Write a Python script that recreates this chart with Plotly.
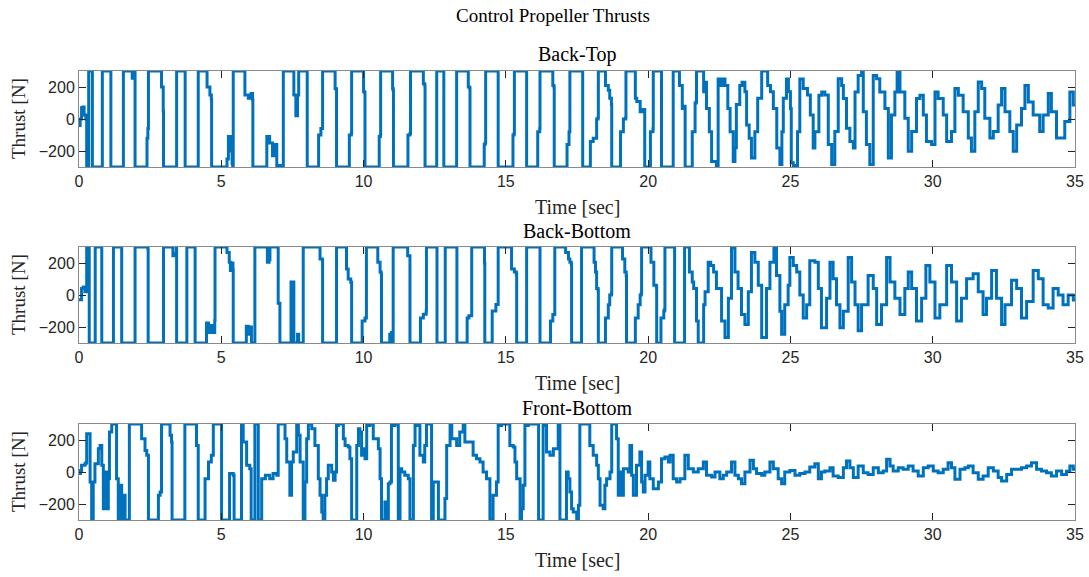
import plotly.graph_objects as go

# ---------------- data: (time [s], thrust [N]) pairs per panel ----------------
back_top = [
(0.00,-40),(0.04,0),(0.09,70),(0.13,75),(0.18,25),(0.24,0),(0.27,-300),(0.33,-300),(0.34,300),(0.46,300),(0.47,-300),(0.80,-300),(0.82,300),(1.11,300),(1.12,-300),(1.55,-300),(1.56,300),(1.85,300),(1.87,255),(1.90,300),(1.96,300),(1.97,-300),(2.38,-300),(2.39,-120),(2.42,-60),(2.44,300),(2.84,300),(2.90,200),(2.96,50),(2.97,-300),(3.42,-300),(3.43,300),(3.72,300),(3.73,-300),(4.18,-300),(4.19,300),(4.45,300),(4.50,200),(4.60,150),(4.65,120),(4.66,-300),(5.10,-300),(5.20,-250),(5.25,-110),(5.32,-200),(5.38,-280),(5.40,-300),(5.42,300),(5.80,300),(5.83,150),(5.95,130),(6.05,160),(6.10,120),(6.11,-300),(6.55,-300),(6.60,-110),(6.70,-150),(6.80,-230),(6.90,-160),(6.95,-290),(7.17,-300),(7.18,300),(7.50,300),(7.55,150),(7.62,20),(7.68,150),(7.72,300),(8.00,300),(8.02,-300),(8.40,-300),(8.42,-100),(8.50,-60),(8.56,300),
(8.94,300),(9.00,190),(9.04,185),(9.05,-300),(9.46,-300),(9.50,-100),(9.57,-90),(9.58,300),(9.93,300),(10.00,170),(10.04,165),(10.05,-300),(10.52,-300),(10.55,-110),(10.59,-100),(10.60,300),(10.98,300),(11.02,190),(11.04,180),(11.05,-300),(11.51,-300),(11.56,-100),(11.63,-90),(11.65,300),(12.04,300),(12.10,220),(12.15,210),(12.16,-300),(12.56,-300),(12.57,300),(12.80,300),(12.82,-300),(13.26,-300),(13.27,300),(13.62,300),(13.68,200),(13.73,190),(13.74,-300),(14.20,-300),(14.24,-160),(14.27,-150),(14.29,300),(14.67,300),(14.73,-300),(15.20,-300),(15.25,-100),(15.29,-90),(15.30,300),(15.67,300),(15.73,-300),(16.05,-300),(16.12,-80),(16.19,-60),(16.20,300),(16.60,300),(16.65,210),(16.69,200),(16.70,-300),(17.08,-300),(17.15,-160),(17.22,-80),(17.25,300),
(17.66,300),(17.70,-300),(17.95,-300),(17.97,-140),(18.07,-120),(18.19,0),(18.24,10),(18.25,300),(18.42,300),(18.50,210),(18.60,180),(18.65,130),(18.71,90),(18.72,-300),(19.01,-300),(19.03,-80),(19.13,0),(19.21,10),(19.22,300),(19.42,300),(19.55,130),(19.60,110),(19.72,45),(19.80,60),(19.88,-300),(20.06,-300),(20.08,-80),(20.17,-60),(20.18,300),(20.41,300),(20.47,-300),(20.80,-300),(20.88,300),(21.06,300),(21.10,210),(21.20,65),(21.28,80),(21.30,-300),(21.53,-300),(21.55,-80),(21.65,100),(21.69,110),(21.70,300),(21.90,300),(21.95,170),(22.00,230),(22.05,65),(22.15,-80),(22.23,-265),(22.40,-300),(22.46,250),(22.55,210),(22.62,250),(22.70,210),(22.80,65),(22.88,-80),(22.99,-265),(23.05,-180),(23.10,90),(23.22,210),(23.30,230),(23.40,170),(23.46,-37),(23.55,-120),(23.63,-243),(23.75,-80),(23.85,130),(23.99,300),(24.10,300),(24.20,210),(24.30,170),(24.40,65),(24.52,-181),(24.63,-284),(24.70,-80),(24.75,130),(24.86,250),(24.93,170),(25.00,66),(25.03,-274),(25.10,-290),(25.25,-80),(25.33,250),(25.45,190),(25.60,150),(25.70,25),(25.80,-181),(25.86,-80),(26.00,148),
(26.10,169),(26.21,150),(26.33,-160),(26.45,-284),(26.56,-78),(26.68,251),(26.80,210),(26.86,128),(26.97,-58),(27.09,-140),(27.21,-181),(27.27,169),(27.38,272),(27.50,292),(27.56,45),(27.67,-160),(27.79,-284),(27.91,272),(28.03,251),(28.14,169),(28.32,66),(28.44,-243),(28.55,25),(28.67,169),(28.75,292),(28.85,169),(29.02,4),(29.14,-202),(29.26,-78),(29.43,128),(29.55,148),(29.67,25),(29.78,-140),(29.96,-160),(30.08,169),(30.19,128),(30.37,25),(30.49,-140),(30.66,-78),(30.78,190),(30.90,148),(31.07,45),(31.25,-119),(31.36,-202),(31.48,45),(31.60,231),(31.72,190),(31.83,4),(32.01,-119),(32.13,-78),(32.30,87),(32.42,190),(32.54,45),(32.71,-78),(32.83,-202),(32.95,-37),(33.12,66),(33.24,210),(33.36,107),(33.53,25),(33.76,-78),(33.88,25),(34.06,159),(34.17,45),(34.35,-119),(34.47,-119),(34.64,-16),(34.82,169),(34.94,87),(35.00,90)]

back_bottom = [
(0.00,-30),(0.04,-30),(0.09,40),(0.15,50),(0.21,20),(0.25,20),(0.27,300),(0.35,300),(0.36,-300),(0.56,-300),(0.57,300),(0.79,300),(0.80,-300),(1.20,-300),(1.21,300),(1.49,300),(1.50,-300),(1.96,-300),(1.97,300),(2.38,300),(2.42,290),(2.43,-300),(2.96,-300),(2.97,300),(3.25,300),(3.30,245),(3.38,260),(3.42,300),(3.43,-300),(3.78,-300),(3.79,300),(4.07,300),(4.08,-300),(4.45,-300),(4.48,-175),(4.55,-235),(4.62,-190),(4.72,-235),(4.77,-160),(4.78,300),(5.19,300),(5.20,265),(5.28,204),(5.32,153),(5.36,200),(5.41,160),(5.42,-300),(5.83,-300),(5.88,-195),(5.95,-245),(6.00,-200),(6.06,-300),(6.17,-300),(6.18,300),(6.59,300),(6.62,204),(6.68,220),(6.71,300),(6.94,300),(7.00,-51),(7.06,-300),(7.41,-300),(7.45,82),(7.50,82),(7.55,-300),(7.68,-245),(7.72,-300),(7.87,-300),(7.88,300),(8.41,300),(8.47,225),(8.55,220),(8.56,-300),
(9.04,-300),(9.05,300),(9.35,300),(9.40,163),(9.46,100),(9.55,80),(9.58,-300),(9.93,-300),(9.95,-163),(10.05,-143),(10.10,300),(10.40,300),(10.50,204),(10.58,143),(10.62,130),(10.63,-300),(10.90,-300),(10.92,-245),(10.98,-235),(11.00,-300),(11.04,300),(11.51,300),(11.55,245),(11.62,245),(11.63,-300),(11.98,-300),(12.00,-143),(12.10,-120),(12.20,-100),(12.21,300),(12.57,300),(12.58,-300),(12.86,-300),(12.87,300),(13.27,300),(13.28,-300),(13.62,-300),(13.64,-143),(13.70,-130),(13.79,-130),(13.80,300),(14.20,300),(14.25,200),(14.26,-300),(14.50,-300),(14.52,-100),(14.65,-60),(14.72,-60),(14.73,300),(15.14,300),(15.20,163),(15.30,143),(15.37,130),(15.38,-300),(15.72,-300),(15.73,300),(16.19,300),(16.20,-300),(16.55,-300),(16.57,-163),(16.65,-122),(16.71,-122),(16.72,300),(17.07,300),(17.10,265),(17.20,225),(17.25,204),(17.30,190),(17.31,-300),
(17.65,-300),(17.66,300),(18.01,300),(18.10,204),(18.15,143),(18.19,41),(18.24,30),(18.25,-300),(18.42,-300),(18.50,-143),(18.60,-61),(18.65,0),(18.71,10),(18.72,300),(19.01,300),(19.10,225),(19.18,143),(19.23,120),(19.24,-300),(19.48,-300),(19.55,-143),(19.65,-61),(19.72,0),(19.76,10),(19.77,300),(20.00,300),(20.10,204),(20.20,61),(20.29,50),(20.30,-300),(20.40,-300),(20.45,-143),(20.55,-100),(20.58,-90),(20.59,300),(20.88,300),(20.93,-300),(21.20,-300),(21.28,300),(21.35,300),(21.45,143),(21.55,82),(21.60,41),(21.70,-163),(21.76,-300),(21.88,-300),(21.95,-61),(22.00,20),(22.11,204),(22.20,184),(22.30,143),(22.40,41),(22.58,-163),(22.70,-265),(22.82,-20),(22.93,296),(23.05,143),(23.16,41),(23.28,-122),(23.40,-184),(23.52,20),(23.63,265),(23.75,204),(23.87,61),(23.99,-265),(24.16,41),(24.28,204),(24.42,296),(24.51,122),(24.63,-102),(24.69,-245),(24.80,-61),(24.92,61),(24.98,235),(25.10,184),(25.22,143),(25.33,0),(25.45,-143),(25.57,-61),(25.68,214),(25.86,204),(25.98,41),(26.09,-204),
(26.27,-20),(26.39,204),(26.50,102),(26.62,-61),(26.74,-204),(26.86,-102),(27.03,235),(27.15,82),(27.27,-61),(27.38,-224),(27.50,-61),(27.73,122),(27.91,41),(28.03,-184),(28.20,-61),(28.38,235),(28.50,82),(28.67,-20),(28.85,-122),(29.02,41),(29.14,143),(29.26,41),(29.43,-163),(29.61,-20),(29.76,184),(29.90,82),(30.08,-143),(30.25,-61),(30.49,184),(30.66,82),(30.84,-163),(31.01,-20),(31.19,102),(31.42,133),(31.60,20),(31.77,-122),(31.89,-20),(32.07,153),(32.24,-20),(32.42,-184),(32.54,-61),(32.77,92),(32.95,41),(33.12,-143),(33.30,-41),(33.53,153),(33.71,102),(33.88,-61),(34.06,-82),(34.23,41),(34.41,0),(34.58,-61),(34.76,0),(34.94,-31),(35.00,-20)]

front_bottom = [
(0.00,-10),(0.05,10),(0.09,42),(0.21,52),(0.25,60),(0.27,239),(0.33,239),(0.39,-62),(0.445,-300),(0.50,-62),(0.56,52),(0.68,146),(0.74,166),(0.80,42),(0.855,-229),(0.91,0),(0.97,-229),(1.03,-42),(1.07,250),(1.15,300),(1.27,300),(1.32,-42),(1.38,-300),(1.44,-83),(1.50,-300),(1.56,-146),(1.62,-300),(1.73,-300),(1.77,300),(2.03,300),(2.14,300),(2.20,208),(2.32,135),(2.38,105),(2.44,-300),(2.73,-300),(2.79,-146),(2.85,-125),(2.90,300),(3.14,300),(3.20,229),(3.25,187),(3.27,-300),(3.71,-300),(3.72,300),(4.07,300),(4.13,166),(4.19,-300),(4.43,-42),(4.55,62),(4.65,104),(4.72,300),(4.95,300),(5.01,-300),(5.27,-300),(5.29,-10),(5.42,-21),(5.45,-300),(5.70,-300),(5.71,300),(5.77,187),(5.89,42),(6.00,21),(6.05,-300),(6.12,-300),(6.18,300),(6.25,300),(6.30,-300),(6.40,-300),(6.42,-42),(6.55,-21),(6.70,-42),(6.82,-10),(6.95,-21),(7.00,300),(7.18,300),(7.24,208),(7.30,62),(7.41,-146),(7.47,62),(7.53,125),(7.65,300),(7.71,229),(7.77,62),(7.88,-300),(7.94,-62),(8.00,208),(8.06,300),(8.18,270),(8.29,166),(8.41,-42),
(8.47,-146),(8.53,-250),(8.58,-300),(8.64,-146),(8.70,-42),(8.76,42),(8.88,0),(8.94,-52),(9.00,0),(9.05,291),(9.11,300),(9.23,300),(9.29,208),(9.35,166),(9.46,156),(9.52,83),(9.58,-300),(9.70,-300),(9.76,166),(9.82,270),(9.87,250),(9.93,104),(9.99,146),(10.05,83),(10.11,291),(10.22,300),(10.34,208),(10.52,146),(10.58,-42),(10.63,-300),(10.75,-187),(10.81,-300),(10.87,-73),(10.93,-62),(10.98,291),(11.10,300),(11.16,300),(11.22,-300),(11.28,21),(11.34,0),(11.45,-21),(11.57,-42),(11.63,-300),(11.75,166),(11.81,291),(11.86,291),(11.98,104),(12.10,62),(12.15,166),(12.21,300),(12.33,300),(12.39,-300),(12.45,-62),(12.57,-62),(12.63,-300),(12.74,-300),(12.86,-166),(12.92,166),(13.04,291),(13.10,208),(13.27,166),(13.38,250),(13.50,291),(13.56,187),(13.85,104),(13.97,83),(14.09,62),(14.20,0),(14.32,-42),(14.44,-300),(14.55,-146),(14.67,-62),(14.73,291),(14.85,300),(15.03,300),(15.14,166),(15.26,156),(15.32,62),(15.38,-42),(15.50,-300),(15.55,-229),(15.61,-83),(15.67,291),(15.79,300),(16.10,300),(16.15,-300),(16.25,-300),(16.31,291),(16.37,300),(16.43,125),(16.55,104),(16.67,146),(16.84,291),(16.90,-300),(17.02,-300),(17.13,0),(17.19,-42),
(17.25,-125),(17.31,-229),(17.37,-250),(17.49,-300),(17.55,-208),(17.60,300),(17.90,300),(17.95,166),(18.07,104),(18.19,42),(18.25,-42),(18.31,-208),(18.42,-229),(18.48,-83),(18.54,-42),(18.66,0),(18.72,300),(18.83,300),(18.89,208),(18.95,-146),(19.01,0),(19.07,-146),(19.13,21),(19.30,0),(19.36,166),(19.42,-21),(19.48,-146),(19.59,42),(19.71,125),(19.77,-62),(19.83,-125),(19.89,-21),(20.00,62),(20.06,-42),(20.18,-104),(20.36,-62),(20.47,83),(20.59,94),(20.71,62),(20.77,104),(20.88,-42),(21.00,-62),(21.12,-42),(21.29,104),(21.41,21),(21.59,0),(21.76,21),(21.94,62),(22.05,-21),(22.23,-31),(22.35,0),(22.52,-42),(22.64,-21),(22.76,0),(22.93,62),(23.05,-21),(23.17,-42),(23.28,-73),(23.40,0),(23.58,73),(23.70,21),(23.81,-10),(23.99,-21),(24.10,0),(24.28,62),(24.40,21),(24.57,-42),(24.69,-73),(24.80,0),(24.98,10),(25.16,-21),(25.33,-10),(25.51,0),(25.68,31),(25.86,52),(25.98,-42),(26.09,0),
(26.21,6),(26.39,27),(26.50,-25),(26.68,-35),(26.86,27),(26.97,69),(27.09,27),(27.21,-35),(27.38,37),(27.56,-4),(27.73,-15),(27.91,27),(28.09,-4),(28.26,6),(28.38,79),(28.50,37),(28.61,6),(28.79,27),(28.96,17),(29.14,37),(29.31,6),(29.49,-25),(29.67,27),(29.84,37),(30.02,6),(30.19,-4),(30.37,17),(30.54,58),(30.66,27),(30.78,-46),(30.96,17),(31.13,27),(31.25,37),(31.42,-4),(31.60,-46),(31.77,-25),(31.95,27),(32.13,6),(32.30,-35),(32.42,-56),(32.60,-15),(32.77,17),(32.95,17),(33.12,27),(33.30,37),(33.47,58),(33.65,17),(33.82,6),(34.00,-4),(34.17,-25),(34.35,6),(34.53,-15),(34.70,5),(34.82,37),(34.94,17),(35.00,10)]

x_ticks = [0, 5, 10, 15, 20, 25, 30, 35]
y_ticks = [-200, 0, 200]
panel_titles = ["Back-Top", "Back-Bottom", "Front-Bottom"]
series = [back_top, back_bottom, front_bottom]

# ---------------- layout helpers ----------------
W, H = 1089, 577
L, R, T, B = 79, 14, 71, 57
PW, PH = W - L - R, H - T - B
panels_px = [(71, 167), (247, 343), (424, 520)]   # top, bottom pixel of each axes


def py2paper(py):
    return (H - B - py) / PH


def px2paper(px):
    return (px - L) / PW


BLUE = "#0072BD"
SERIF = "Liberation Serif"
SANS = "Liberation Sans"
AXC = "#262626"

fig = go.Figure()
for i, pts in enumerate(series):
    t = [p[0] for p in pts]
    v = [p[1] for p in pts]
    k = "" if i == 0 else str(i + 1)
    fig.add_trace(go.Scatter(x=t, y=v, mode="lines", xaxis="x" + k, yaxis="y" + k,
                             line=dict(color=BLUE, width=3, shape="hv"), showlegend=False))
    top, bot = panels_px[i]
    fig.layout["xaxis" + k] = dict(
        domain=[0, 1], anchor="y" + k, range=[0, 35], tickvals=x_ticks,
        ticks="inside", ticklen=7, tickcolor=AXC, showgrid=False, zeroline=False,
        showline=True, linecolor="#8a8a8a", linewidth=1, mirror="ticks", automargin=False,
        tickfont=dict(family=SANS, size=16, color=AXC))
    fig.layout["yaxis" + k] = dict(
        domain=[py2paper(bot), py2paper(top)], anchor="x" + k, range=[-300, 300],
        tickvals=y_ticks, ticks="inside", ticklen=7, tickcolor=AXC, showgrid=False,
        zeroline=False, showline=True, linecolor="#8a8a8a", linewidth=1, mirror="ticks",
        automargin=False, tickfont=dict(family=SANS, size=16, color=AXC))
    fig.add_annotation(text=panel_titles[i], x=px2paper(577), y=py2paper(top - 16),
                       xref="paper", yref="paper", showarrow=False,
                       xanchor="center", yanchor="middle",
                       font=dict(family=SERIF, size=20, color="black"))
    fig.add_annotation(text="Time [sec]", x=px2paper(577), y=py2paper(bot + 40),
                       xref="paper", yref="paper", showarrow=False,
                       xanchor="center", yanchor="middle",
                       font=dict(family=SERIF, size=20, color=AXC))
    fig.add_annotation(text="Thrust [N]", x=px2paper(18), y=py2paper((top + bot) / 2),
                       xref="paper", yref="paper", showarrow=False, textangle=-90,
                       xanchor="center", yanchor="middle",
                       font=dict(family=SERIF, size=19, color=AXC))

fig.add_annotation(text="Control Propeller Thrusts", x=px2paper(553), y=py2paper(15),
                   xref="paper", yref="paper", showarrow=False,
                   xanchor="center", yanchor="middle",
                   font=dict(family=SERIF, size=19, color="black"))

fig.update_layout(width=W, height=H, margin=dict(l=L, r=R, t=T, b=B, autoexpand=False),
                  plot_bgcolor="white", paper_bgcolor="white")
fig.write_html("out.html")
